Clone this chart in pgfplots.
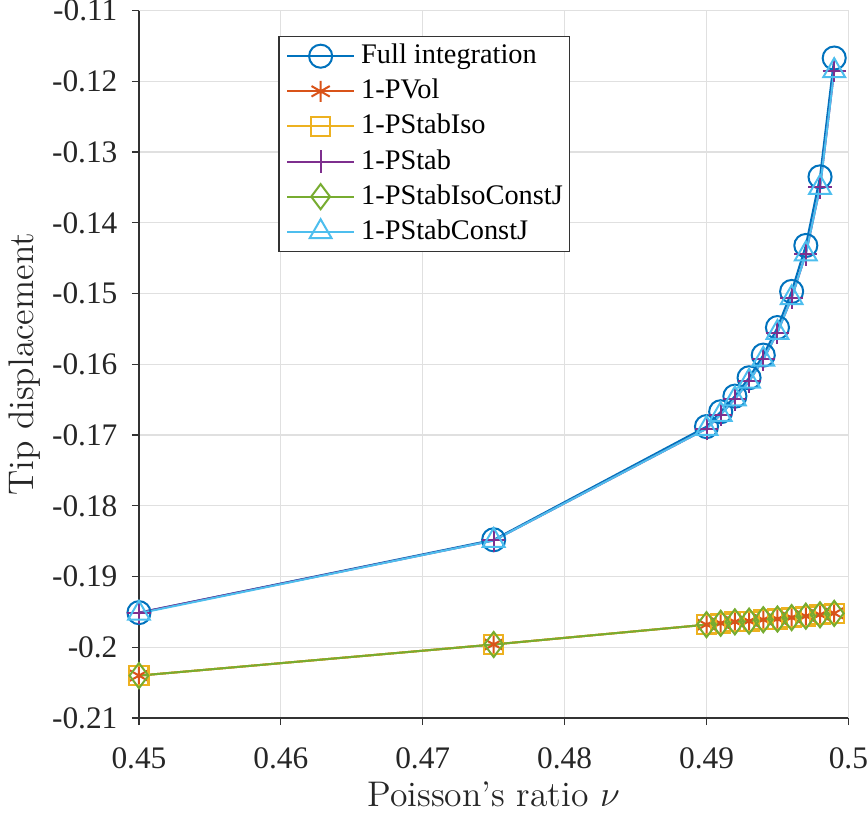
\documentclass[border=0pt]{standalone}
\usepackage{pgfplots}
\pgfplotsset{compat=1.18}
\usepackage{fontspec}
\newfontfamily\timesfont{Liberation Serif}
\definecolor{c1}{rgb}{0,0.447,0.741}
\definecolor{c2}{rgb}{0.85,0.325,0.098}
\definecolor{c3}{rgb}{0.929,0.694,0.125}
\definecolor{c4}{rgb}{0.494,0.184,0.556}
\definecolor{c5}{rgb}{0.466,0.674,0.188}
\definecolor{c6}{rgb}{0.301,0.745,0.933}
\pgfplotstableread{
x full pvol pstabiso pstab pstabisoj pstabj
0.45  -0.1951 -0.2040 -0.2040 -0.1951 -0.2040 -0.1952
0.475 -0.1848 -0.1996 -0.1996 -0.1849 -0.1996 -0.1849
0.49  -0.1688 -0.1968 -0.1968 -0.1691 -0.1968 -0.1691
0.491 -0.1667 -0.1966 -0.1966 -0.1671 -0.1966 -0.1671
0.492 -0.1645 -0.1964 -0.1964 -0.1649 -0.1964 -0.1649
0.493 -0.1619 -0.1963 -0.1963 -0.1624 -0.1963 -0.1624
0.494 -0.1587 -0.1961 -0.1961 -0.1593 -0.1961 -0.1593
0.495 -0.1548 -0.1960 -0.1960 -0.1555 -0.1960 -0.1555
0.496 -0.1497 -0.1958 -0.1958 -0.1506 -0.1958 -0.1506
0.497 -0.1432 -0.1956 -0.1956 -0.1444 -0.1956 -0.1444
0.498 -0.1335 -0.1954 -0.1954 -0.1350 -0.1954 -0.1350
0.499 -0.1167 -0.1952 -0.1952 -0.1185 -0.1952 -0.1185
}\data
\begin{document}
\begin{tikzpicture}
\begin{axis}[
  scale only axis,
  width=282.8pt, height=282pt,
  xmin=0.45, xmax=0.5, ymin=-0.21, ymax=-0.11,
  xtick={0.45,0.46,0.47,0.48,0.49,0.5},
  xticklabels={0.45,0.46,0.47,0.48,0.49,0.5},
  ytick={-0.21,-0.2,-0.19,-0.18,-0.17,-0.16,-0.15,-0.14,-0.13,-0.12,-0.11},
  yticklabels={-0.21,-0.2,-0.19,-0.18,-0.17,-0.16,-0.15,-0.14,-0.13,-0.12,-0.11},
  axis x line*=bottom, axis y line*=left,
  axis line style={draw=black!80, line width=0.5pt},
  tick style={draw=black!80, line width=0.5pt},
  tick align=outside,
  major tick length=2.8pt,
  grid=major,
  grid style={draw=black!12, line width=0.5pt},
  ticklabel style={font=\timesfont\fontsize{12.5}{14}\selectfont, text=black!85, inner sep=0pt},
  xticklabel style={anchor=north, yshift=-8.8pt},
  yticklabel style={anchor=east, xshift=-5.6pt},
  xlabel={Poisson's ratio $\nu$},
  ylabel={Tip displacement},
  label style={font=\fontsize{14.2}{16}\selectfont, text=black!85},
  xlabel style={at={(axis description cs:0.5,-0.1376)}, anchor=south},
  ylabel style={at={(axis description cs:-0.1966,0.5)}, anchor=north},
  legend style={at={(0.1966,0.9645)}, anchor=north west, draw=black!80, line width=0.5pt,
    font=\timesfont\fontsize{11.3}{13}\selectfont, row sep=1pt, column sep=2.4pt,
    inner xsep=2.8pt, inner ysep=1.4pt,
    nodes={inner sep=0pt, text height=9.5pt, text depth=3.5pt}},
  legend image code/.code={\draw[mark repeat=2,mark phase=2] plot coordinates {(0cm,0cm) (0.47cm,0cm) (0.94cm,0cm)};},
  legend cell align=left,
  every axis plot/.append style={line width=0.8pt},
  clip=false,
]
\draw[black!12, line width=0.5pt] (rel axis cs:0,1) -- (rel axis cs:1,1) -- (rel axis cs:1,0);
\addplot[c1, mark=o, mark size=4.6pt] table[x=x,y=full]{\data};
\addlegendentry{Full integration}
\addplot[c2, mark=asterisk, mark size=4.2pt] table[x=x,y=pvol]{\data};
\addlegendentry{1-PVol}
\addplot[c3, mark=square, mark size=3.8pt] table[x=x,y=pstabiso]{\data};
\addlegendentry{1-PStabIso}
\addplot[c4, mark=+, mark size=4.6pt] table[x=x,y=pstab]{\data};
\addlegendentry{1-PStab}
\addplot[c5, mark=diamond, mark size=5pt] table[x=x,y=pstabisoj]{\data};
\addlegendentry{1-PStabIsoConstJ}
\addplot[c6, mark=triangle, mark size=5pt] table[x=x,y=pstabj]{\data};
\addlegendentry{1-PStabConstJ}
\end{axis}
\end{tikzpicture}
\end{document}
